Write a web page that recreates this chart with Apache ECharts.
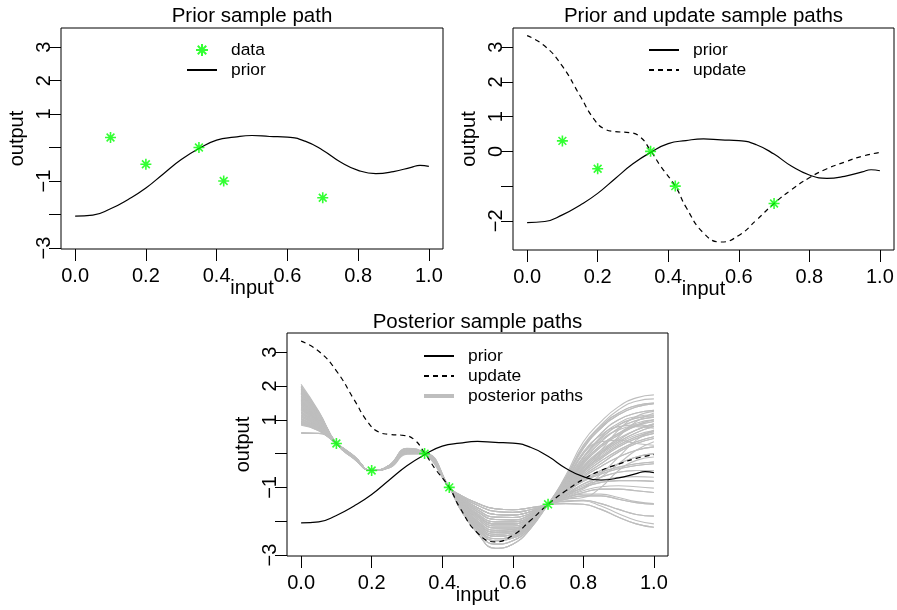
<!DOCTYPE html>
<html lang="en" style="height: 100%;width: 100%">
<head>
    <meta charset="utf-8">
</head>
<body style="height: 100%;width: 100%; margin: 0; background: #fff">
<div id="container" style="height: 610px;width: 897px;"></div>
<script type="text/javascript" src="https://cdn.jsdelivr.net/npm/echarts@6/dist/echarts.min.js"></script>
<script type="text/javascript">
// observed data points
var dataX = [0.1, 0.2, 0.35, 0.42, 0.7];
var dataY = [0.3, -0.5, 0.0, -1.0, -1.5];

// prior sample path
var priorX = [0, 0.05, 0.1, 0.15, 0.2, 0.25, 0.3, 0.35, 0.4, 0.45, 0.5, 0.55, 0.6, 0.65, 0.7, 0.75, 0.8, 0.85, 0.9, 0.95, 0.975, 1];
var priorY = [-2.05, -2.02, -1.83, -1.55, -1.21, -0.78, -0.36, -0.03, 0.22, 0.31, 0.36, 0.33, 0.31, 0.19, -0.08, -0.43, -0.68, -0.78, -0.72, -0.59, -0.53, -0.56];

// update sample path
var updateX = [0, 0.05, 0.1, 0.15, 0.19, 0.22, 0.25, 0.29, 0.32, 0.35, 0.38, 0.42, 0.45, 0.5, 0.55, 0.6, 0.65, 0.7, 0.75, 0.8, 0.85, 0.9, 0.95, 1];
var updateY = [3.33, 3.03, 2.45, 1.6, 0.92, 0.64, 0.57, 0.54, 0.42, 0.02, -0.45, -1.0, -1.6, -2.35, -2.61, -2.42, -1.98, -1.5, -1.1, -0.76, -0.5, -0.31, -0.14, -0.03];

// posterior sample paths (values at posteriorX)
var posteriorX = [0, 0.05, 0.1, 0.15, 0.2, 0.25, 0.3, 0.35, 0.42, 0.45, 0.5, 0.55, 0.6, 0.65, 0.7, 0.75, 0.8, 0.85, 0.9, 0.95, 1];
var posteriorPaths = [
    [2.05,1.25,0.30,-0.15,-0.50,-0.42,0.00,0.00,-1.00,-1.33,-1.72,-1.95,-1.96,-1.82,-1.50,-1.00,-0.45,0.00,0.35,0.62,0.80],
    [1.95,1.20,0.30,-0.14,-0.50,-0.40,0.04,0.00,-1.00,-1.48,-2.04,-2.33,-2.30,-2.05,-1.50,-0.65,0.35,0.95,1.39,1.65,1.74],
    [1.90,1.18,0.30,-0.14,-0.50,-0.38,0.08,0.00,-1.00,-1.22,-1.47,-1.63,-1.66,-1.60,-1.50,-1.15,-0.80,-0.55,-0.40,-0.30,-0.25],
    [1.85,1.15,0.30,-0.13,-0.50,-0.36,0.12,0.00,-1.00,-1.56,-2.22,-2.58,-2.50,-2.14,-1.50,-0.90,-0.20,0.35,0.75,0.98,1.08],
    [1.80,1.12,0.30,-0.13,-0.50,-0.41,0.02,0.00,-1.00,-1.43,-1.93,-2.20,-2.20,-1.98,-1.50,-1.30,-1.15,-1.05,-1.05,-1.10,-1.15],
    [1.75,1.10,0.30,-0.12,-0.50,-0.35,0.14,0.00,-1.00,-1.38,-1.83,-2.08,-2.08,-1.90,-1.50,-0.75,0.15,0.75,1.15,1.38,1.48],
    [1.70,1.08,0.30,-0.12,-0.50,-0.39,0.06,0.00,-1.00,-1.52,-2.13,-2.45,-2.40,-2.10,-1.50,-1.10,-0.65,-0.30,0.05,0.30,0.45],
    [1.65,1.05,0.30,-0.12,-0.50,-0.37,0.10,0.00,-1.00,-1.28,-1.60,-1.80,-1.82,-1.72,-1.50,-1.48,-1.50,-1.65,-1.88,-2.08,-2.18],
    [1.60,1.02,0.30,-0.11,-0.50,-0.42,-0.02,0.00,-1.00,-1.62,-2.35,-2.80,-2.68,-2.22,-1.50,-0.95,-0.30,0.20,0.55,0.82,0.95],
    [1.55,1.00,0.30,-0.11,-0.50,-0.34,0.16,0.00,-1.00,-1.33,-1.72,-1.95,-1.96,-1.82,-1.50,-1.20,-0.90,-0.70,-0.55,-0.50,-0.50],
    [1.50,0.98,0.30,-0.11,-0.50,-0.38,0.08,0.00,-1.00,-1.48,-2.04,-2.33,-2.30,-2.05,-1.50,-0.80,0.00,0.60,1.00,1.20,1.28],
    [1.45,0.95,0.30,-0.10,-0.50,-0.40,0.03,0.00,-1.00,-1.22,-1.47,-1.63,-1.66,-1.60,-1.50,-1.05,-0.55,-0.15,0.20,0.45,0.60],
    [1.42,0.94,0.30,-0.10,-0.50,-0.36,0.12,0.00,-1.00,-1.56,-2.22,-2.58,-2.50,-2.14,-1.50,-1.35,-1.25,-1.25,-1.35,-1.45,-1.50],
    [1.38,0.92,0.30,-0.10,-0.50,-0.39,0.05,0.00,-1.00,-1.38,-1.83,-2.08,-2.08,-1.90,-1.50,-1.10,-0.75,-0.50,-0.30,-0.10,0.00],
    [1.35,0.90,0.30,-0.10,-0.50,-0.35,0.14,0.00,-1.00,-1.43,-1.93,-2.20,-2.20,-1.98,-1.50,-0.85,0.00,0.35,0.40,0.30,0.25],
    [1.30,0.88,0.30,-0.10,-0.50,-0.41,0.00,0.00,-1.00,-1.52,-2.13,-2.45,-2.40,-2.10,-1.50,-1.25,-1.00,-0.85,-0.80,-0.80,-0.82],
    [1.25,0.85,0.30,-0.09,-0.50,-0.37,0.10,0.00,-1.00,-1.28,-1.60,-1.80,-1.82,-1.72,-1.50,-1.00,-0.40,0.10,0.70,1.10,1.25],
    [1.20,0.83,0.30,-0.09,-0.50,-0.38,0.07,0.00,-1.00,-1.62,-2.35,-2.80,-2.68,-2.22,-1.50,-1.40,-1.38,-1.48,-1.65,-1.80,-1.85],
    [1.15,0.80,0.30,-0.09,-0.50,-0.36,0.11,0.00,-1.00,-1.33,-1.72,-1.95,-1.96,-1.82,-1.50,-1.20,-1.00,-0.60,-0.10,0.40,0.70],
    [1.10,0.78,0.30,-0.09,-0.50,-0.40,0.03,0.00,-1.00,-1.48,-2.04,-2.33,-2.30,-2.05,-1.50,-0.90,-0.20,0.35,0.75,0.98,1.08],
    [1.05,0.75,0.30,-0.09,-0.50,-0.34,0.15,0.00,-1.00,-1.38,-1.83,-2.08,-2.08,-1.90,-1.50,-1.35,-1.30,-1.00,-0.50,-0.20,-0.10],
    [1.00,0.74,0.30,-0.08,-0.50,-0.38,0.06,0.00,-1.00,-1.52,-2.13,-2.45,-2.40,-2.10,-1.50,-1.00,-0.45,0.00,0.35,0.62,0.80],
    [0.95,0.72,0.30,-0.08,-0.50,-0.37,0.09,0.00,-1.00,-1.22,-1.47,-1.63,-1.66,-1.60,-1.50,-1.30,-1.15,-1.05,-1.05,-1.10,-1.15],
    [0.92,0.71,0.30,-0.08,-0.50,-0.40,0.02,0.00,-1.00,-1.43,-1.93,-2.20,-2.20,-1.98,-1.50,-0.75,0.15,0.75,1.15,1.38,1.48],
    [0.90,0.70,0.30,-0.08,-0.50,-0.35,0.13,0.00,-1.00,-1.56,-2.22,-2.58,-2.50,-2.14,-1.50,-1.15,-0.80,-0.55,-0.40,-0.30,-0.25],
    [0.88,0.69,0.30,-0.08,-0.50,-0.39,0.05,0.00,-1.00,-1.28,-1.60,-1.80,-1.82,-1.72,-1.50,-1.05,-0.55,-0.15,0.20,0.45,0.60],
    [0.86,0.68,0.30,-0.08,-0.50,-0.36,0.11,0.00,-1.00,-1.48,-2.04,-2.33,-2.30,-2.05,-1.50,-1.40,-1.38,-1.48,-1.65,-1.80,-1.85],
    [0.62,0.60,0.30,-0.07,-0.50,-0.38,0.07,0.00,-1.00,-1.38,-1.83,-2.08,-2.08,-1.90,-1.50,-0.80,0.00,0.60,1.00,1.20,1.28],
    [0.60,0.60,0.30,-0.07,-0.50,-0.37,0.08,0.00,-1.00,-1.33,-1.72,-1.95,-1.96,-1.82,-1.50,-1.10,-0.75,-0.50,-0.30,-0.10,0.00],
    [1.98,1.22,0.30,-0.15,-0.50,-0.39,0.05,0.00,-1.00,-1.43,-1.93,-2.20,-2.20,-1.98,-1.50,-1.10,-0.65,-0.30,0.05,0.30,0.45],
    [1.72,1.09,0.30,-0.12,-0.50,-0.36,0.12,0.00,-1.00,-1.62,-2.35,-2.80,-2.68,-2.22,-1.50,-0.70,0.25,0.85,1.30,1.55,1.62],
    [1.48,0.97,0.30,-0.11,-0.50,-0.41,0.01,0.00,-1.00,-1.52,-2.13,-2.45,-2.40,-2.10,-1.50,-1.35,-1.25,-1.25,-1.35,-1.45,-1.50],
    [1.28,0.87,0.30,-0.10,-0.50,-0.35,0.13,0.00,-1.00,-1.22,-1.47,-1.63,-1.66,-1.60,-1.50,-0.95,-0.30,0.20,0.55,0.82,0.95],
    [1.08,0.77,0.30,-0.09,-0.50,-0.38,0.06,0.00,-1.00,-1.56,-2.22,-2.58,-2.50,-2.14,-1.50,-1.25,-1.00,-0.85,-0.80,-0.80,-0.82],
    [0.98,0.73,0.30,-0.08,-0.50,-0.37,0.09,0.00,-1.00,-1.38,-1.83,-2.08,-2.08,-1.90,-1.50,-1.48,-1.50,-1.65,-1.88,-2.08,-2.18],
    [1.62,1.03,0.30,-0.12,-0.50,-0.40,0.04,0.00,-1.00,-1.28,-1.60,-1.80,-1.82,-1.72,-1.50,-1.20,-0.90,-0.70,-0.55,-0.50,-0.50],
    [1.40,0.93,0.30,-0.10,-0.50,-0.38,0.07,0.00,-1.00,-1.48,-2.04,-2.33,-2.30,-2.05,-1.50,-0.85,-0.10,0.50,0.90,1.10,1.15],
    [1.18,0.82,0.30,-0.09,-0.50,-0.37,0.09,0.00,-1.00,-1.28,-1.60,-1.80,-1.82,-1.72,-1.50,-0.95,-0.35,0.10,0.45,0.70,0.85],
    [1.02,0.75,0.30,-0.09,-0.50,-0.39,0.05,0.00,-1.00,-1.38,-1.83,-2.08,-2.08,-1.90,-1.50,-1.05,-0.50,-0.05,0.30,0.55,0.68],
    [1.88,1.17,0.30,-0.13,-0.50,-0.40,0.04,0.00,-1.00,-1.52,-2.13,-2.45,-2.40,-2.10,-1.50,-0.95,-0.25,0.25,0.60,0.90,1.00],
    [2.00,1.23,0.30,-0.15,-0.50,-0.41,0.02,0.00,-1.00,-1.25,-1.53,-1.71,-1.74,-1.66,-1.50,-0.72,0.20,0.80,1.20,1.42,1.50],
    [1.92,1.19,0.30,-0.14,-0.50,-0.38,0.07,0.00,-1.00,-1.41,-1.88,-2.14,-2.14,-1.94,-1.50,-1.15,-0.82,-0.60,-0.45,-0.35,-0.30],
    [1.83,1.14,0.30,-0.13,-0.50,-0.37,0.10,0.00,-1.00,-1.54,-2.18,-2.52,-2.45,-2.12,-1.50,-0.85,-0.10,0.45,0.85,1.05,1.12],
    [1.77,1.11,0.30,-0.13,-0.50,-0.40,0.04,0.00,-1.00,-1.30,-1.66,-1.88,-1.89,-1.77,-1.50,-1.32,-1.20,-1.20,-1.30,-1.42,-1.48],
    [1.68,1.06,0.30,-0.12,-0.50,-0.36,0.12,0.00,-1.00,-1.50,-2.09,-2.39,-2.35,-2.08,-1.50,-0.98,-0.40,0.05,0.40,0.70,0.88],
    [1.58,1.01,0.30,-0.11,-0.50,-0.39,0.06,0.00,-1.00,-1.36,-1.78,-2.02,-2.02,-1.86,-1.50,-1.22,-0.95,-0.80,-0.70,-0.68,-0.70],
    [1.52,0.99,0.30,-0.11,-0.50,-0.35,0.13,0.00,-1.00,-1.58,-2.28,-2.68,-2.58,-2.18,-1.50,-1.02,-0.50,-0.10,0.25,0.50,0.65],
    [1.46,0.96,0.30,-0.11,-0.50,-0.40,0.03,0.00,-1.00,-1.46,-1.99,-2.27,-2.25,-2.02,-1.50,-0.90,-0.15,0.40,0.70,0.80,0.75],
    [1.36,0.91,0.30,-0.10,-0.50,-0.37,0.09,0.00,-1.00,-1.25,-1.53,-1.71,-1.74,-1.66,-1.50,-1.12,-0.70,-0.38,-0.10,0.10,0.20],
    [1.32,0.89,0.30,-0.10,-0.50,-0.38,0.08,0.00,-1.00,-1.54,-2.18,-2.52,-2.45,-2.12,-1.50,-0.92,-0.25,0.25,0.60,0.85,1.00],
    [1.22,0.84,0.30,-0.09,-0.50,-0.36,0.11,0.00,-1.00,-1.41,-1.88,-2.14,-2.14,-1.94,-1.50,-1.28,-1.10,-0.98,-0.95,-0.98,-1.02],
    [1.12,0.79,0.30,-0.09,-0.50,-0.39,0.05,0.00,-1.00,-1.30,-1.66,-1.88,-1.89,-1.77,-1.50,-1.10,-0.55,0.00,0.50,0.95,1.20],
    [1.03,0.75,0.30,-0.09,-0.50,-0.37,0.09,0.00,-1.00,-1.50,-2.09,-2.39,-2.35,-2.08,-1.50,-1.08,-0.60,-0.22,0.10,0.35,0.50],
    [0.96,0.72,0.30,-0.08,-0.50,-0.40,0.03,0.00,-1.00,-1.36,-1.78,-2.02,-2.02,-1.86,-1.50,-1.42,-1.40,-1.55,-1.78,-1.98,-2.08],
    [0.89,0.70,0.30,-0.08,-0.50,-0.35,0.12,0.00,-1.00,-1.58,-2.28,-2.68,-2.58,-2.18,-1.50,-0.80,0.05,0.55,0.80,0.85,0.80],
    [0.84,0.68,0.30,-0.08,-0.50,-0.38,0.07,0.00,-1.00,-1.46,-1.99,-2.27,-2.25,-2.02,-1.50,-1.25,-1.05,-0.70,-0.30,0.10,0.35],
    [1.78,1.11,0.30,-0.13,-0.50,-0.38,0.08,0.00,-1.00,-1.36,-1.78,-2.02,-2.02,-1.86,-1.50,-0.85,-0.10,0.45,0.85,1.05,1.12],
    [1.57,1.01,0.30,-0.11,-0.50,-0.37,0.09,0.00,-1.00,-1.54,-2.18,-2.52,-2.45,-2.12,-1.50,-0.72,0.20,0.80,1.20,1.42,1.50],
    [1.33,0.89,0.30,-0.10,-0.50,-0.39,0.05,0.00,-1.00,-1.50,-2.09,-2.39,-2.35,-2.08,-1.50,-1.15,-0.82,-0.60,-0.45,-0.35,-0.30],
    [1.13,0.80,0.30,-0.09,-0.50,-0.36,0.11,0.00,-1.00,-1.46,-1.99,-2.27,-2.25,-2.02,-1.50,-0.92,-0.25,0.25,0.60,0.85,1.00],
    [0.93,0.71,0.30,-0.08,-0.50,-0.38,0.07,0.00,-1.00,-1.25,-1.53,-1.71,-1.74,-1.66,-1.50,-0.98,-0.40,0.05,0.40,0.70,0.88],
    [1.97,1.21,0.30,-0.14,-0.50,-0.37,0.10,0.00,-1.00,-1.30,-1.66,-1.88,-1.89,-1.77,-1.50,-1.08,-0.60,-0.22,0.10,0.35,0.50],
    [1.44,0.95,0.30,-0.10,-0.50,-0.38,0.07,0.00,-1.00,-1.58,-2.28,-2.68,-2.58,-2.18,-1.50,-1.12,-0.70,-0.38,-0.10,0.10,0.20],
    [1.23,0.85,0.30,-0.09,-0.50,-0.40,0.04,0.00,-1.00,-1.41,-1.88,-2.14,-2.14,-1.94,-1.50,-1.02,-0.50,-0.10,0.25,0.50,0.65]
];

// axis ticks and labels
var xTicks = [0, 0.2, 0.4, 0.6, 0.8, 1.0];
var yTicks1 = [-3, -2, -1, 0, 1, 2, 3];
var yLabels1 = [-3, -1, 1, 2, 3];
var yTicks2 = [-2, -1, 0, 1, 2, 3];
var yLabels2 = [-2, 0, 1, 2, 3];
var yTicks3 = [-3, -2, -1, 0, 1, 2, 3];
var yLabels3 = [-3, -1, 1, 2, 3];

var titles = ['Prior sample path', 'Prior and update sample paths', 'Posterior sample paths'];

var FONT = "'Liberation Sans', Arial, Helvetica, sans-serif";
var STAR = 'path://M6,0L6,12M0,6L12,6M1.76,1.76L10.24,10.24M1.76,10.24L10.24,1.76';

var dom = document.getElementById('container');
var myChart = echarts.init(dom, null, {renderer: 'canvas'});

function pairs(xs, ys) {
    return xs.map(function (x, i) { return [x, ys[i]]; });
}

function fmt(v) {
    return v < 0 ? '\u2212' + Math.abs(v) : String(v);
}

function makeX(i) {
    return {
        type: 'value', gridIndex: i, min: -0.04, max: 1.04,
        name: 'input', nameLocation: 'middle', nameGap: 29, nameMoveOverlap: false,
        nameTextStyle: {fontFamily: FONT, fontSize: 20, color: '#000'},
        axisLine: {show: false, onZero: false},
        splitLine: {show: false},
        axisTick: {show: true, length: 12, customValues: xTicks, lineStyle: {color: '#000', width: 1}},
        axisLabel: {
            customValues: xTicks, margin: 17, color: '#000', fontSize: 20, fontFamily: FONT,
            formatter: function (v) { return v.toFixed(1); }
        }
    };
}

function makeY(i, min, max, ticks, labels) {
    return {
        type: 'value', gridIndex: i, min: min, max: max,
        name: 'output', nameLocation: 'middle', nameGap: 34,
        nameTextStyle: {fontFamily: FONT, fontSize: 20, color: '#000'},
        axisLine: {show: false, onZero: false},
        splitLine: {show: false},
        axisTick: {show: true, length: 12, customValues: ticks, lineStyle: {color: '#000', width: 1}},
        axisLabel: {
            customValues: labels, margin: 7, rotate: 90, color: '#000', fontSize: 20, fontFamily: FONT,
            formatter: fmt
        }
    };
}

function starSeries(i) {
    return {
        name: 'data', type: 'scatter', xAxisIndex: i, yAxisIndex: i,
        data: pairs(dataX, dataY), symbol: STAR, symbolSize: 11, z: 5,
        itemStyle: {color: 'none', borderColor: '#00ff00', borderWidth: 1.6}
    };
}

function priorSeries(i) {
    return {
        name: 'prior', type: 'line', xAxisIndex: i, yAxisIndex: i,
        data: pairs(priorX, priorY), symbol: 'none', smooth: 0.5, z: 4,
        lineStyle: {color: '#000', width: 1.2}
    };
}

function updateSeries(i) {
    return {
        name: 'update', type: 'line', xAxisIndex: i, yAxisIndex: i,
        data: pairs(updateX, updateY), symbol: 'none', smooth: 0.5, z: 4,
        lineStyle: {color: '#000', width: 1.2, type: [5, 4]}
    };
}

var series = [starSeries(0), priorSeries(0)];
series.push(priorSeries(1), updateSeries(1), starSeries(1));
posteriorPaths.forEach(function (row) {
    series.push({
        name: 'posterior paths', type: 'line', xAxisIndex: 2, yAxisIndex: 2,
        data: pairs(posteriorX, row), symbol: 'none', smooth: 0.5, z: 3,
        lineStyle: {color: '#bebebe', width: 1.1}
    });
});
series.push(priorSeries(2), updateSeries(2), starSeries(2));

var legendText = {fontFamily: FONT, fontSize: 17.4, color: '#000', lineHeight: 20, padding: [0, 0, 0, 9]};
var hideSymbol = {opacity: 0};
function makeLegend(left, top, data) {
    return {
        left: left, top: top, orient: 'vertical', padding: 0, itemGap: 0,
        itemWidth: 30, itemHeight: 12, selectedMode: false,
        textStyle: legendText, data: data
    };
}

var option = {
    animation: false,
    backgroundColor: '#fff',
    title: [
        {text: titles[0], left: 252, top: 6, textAlign: 'center', padding: 0,
            textStyle: {fontFamily: FONT, fontSize: 20.5, fontWeight: 'normal', color: '#000'}},
        {text: titles[1], left: 703.5, top: 6, textAlign: 'center', padding: 0,
            textStyle: {fontFamily: FONT, fontSize: 20.5, fontWeight: 'normal', color: '#000'}},
        {text: titles[2], left: 477.5, top: 311.5, textAlign: 'center', padding: 0,
            textStyle: {fontFamily: FONT, fontSize: 20.5, fontWeight: 'normal', color: '#000'}}
    ],
    legend: [
        makeLegend(186, 40, ['data', {name: 'prior', itemStyle: hideSymbol}]),
        makeLegend(648, 40, [{name: 'prior', itemStyle: hideSymbol}, {name: 'update', itemStyle: hideSymbol}]),
        makeLegend(422, 346, [
            {name: 'prior', itemStyle: hideSymbol},
            {name: 'update', itemStyle: hideSymbol},
            {name: 'posterior paths', itemStyle: hideSymbol, lineStyle: {width: 4}}
        ])
    ],
    grid: [
        {left: 61, top: 28, width: 382, height: 221, show: true, borderColor: '#000', borderWidth: 1},
        {left: 513, top: 28, width: 381, height: 222, show: true, borderColor: '#000', borderWidth: 1},
        {left: 287, top: 333, width: 381, height: 223, show: true, borderColor: '#000', borderWidth: 1}
    ],
    xAxis: [makeX(0), makeX(1), makeX(2)],
    yAxis: [
        makeY(0, -3.03, 3.57, yTicks1, yLabels1),
        makeY(1, -2.84, 3.55, yTicks2, yLabels2),
        makeY(2, -3.03, 3.57, yTicks3, yLabels3)
    ],
    series: series
};
myChart.setOption(option);
</script>
</body>
</html>
